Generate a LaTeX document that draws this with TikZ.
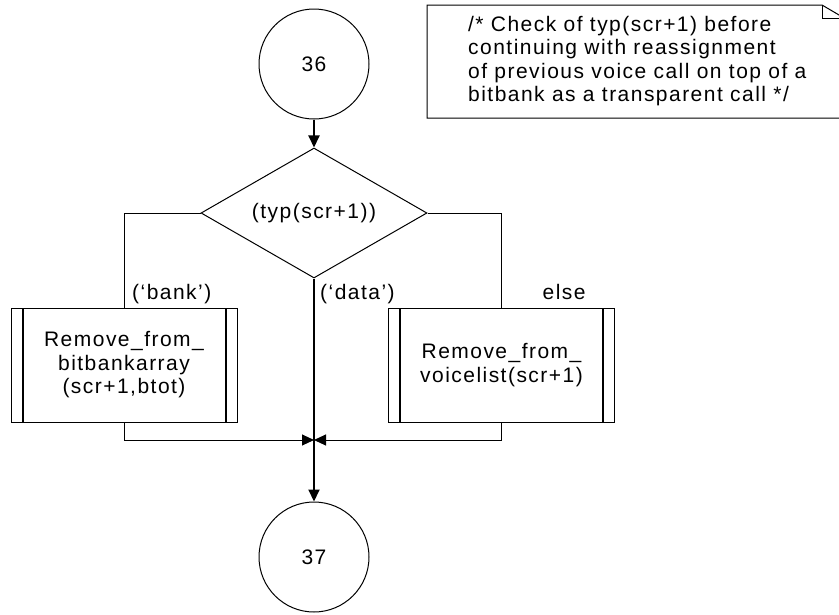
\documentclass[tikz,border=0pt]{standalone}
\usepackage{fontspec}
\setmainfont{Liberation Sans}[LetterSpace=7]
\usepackage{tikz}
\usetikzlibrary{arrows.meta, positioning, shapes.geometric}

\begin{document}
\begin{tikzpicture}[
  x=1pt, y=-1pt,
  every node/.style={font=\fontsize{21}{23.5}\selectfont, inner sep=0pt},
  flow/.style={line width=1pt},
  mainflow/.style={line width=2pt},
  arr/.style={-{Triangle[length=12pt,width=11pt]}},
  conn/.style={circle, draw, line width=1pt, minimum size=110pt},
  decision/.style={diamond, draw, line width=1pt, aspect=1.74,
    minimum width=226pt, minimum height=130pt},
  subproc/.style={rectangle, draw, line width=1pt, minimum width=226pt,
    minimum height=114pt, align=center,
    path picture={
      \draw[line width=2pt] ([xshift=11.5pt]path picture bounding box.north west)
        -- ([xshift=11.5pt]path picture bounding box.south west);
      \draw[line width=2pt] ([xshift=-11.5pt]path picture bounding box.north east)
        -- ([xshift=-11.5pt]path picture bounding box.south east);
    }}
]
  \useasboundingbox (0,0) rectangle (839,614);

  % Connectors and decision
  \node[conn]     (c36) at (314,64)  {36};
  \node[decision] (dec) at (314,213) {(typ(scr+1))};
  \node[conn]     (c37) at (314,557) {37};

  % Branch boxes
  \node[subproc] (lbox) at (124,365)   {Remove\_from\_\\bitbankarray\\(scr+1,btot)};
  \node[subproc] (rbox) at (501.5,365) {Remove\_from\_\\voicelist(scr+1)};
  \coordinate (join) at (314,440);

  \draw[mainflow, arr] (c36) -- (dec);
  \draw[flow] (dec.west) -| (lbox.north);
  \draw[flow] (dec.east) -| (rbox.north);
  \draw[mainflow, arr] (dec.south) -- (c37);
  \draw[flow, arr] (lbox.south) |- (join);
  \draw[flow, arr] (rbox.south) |- (join);

  % Branch labels
  \node[anchor=base west] (lbank) at ([xshift=8pt, yshift=8pt]lbox.north) {(‘bank’)};
  \node[anchor=base west] (ldata) at ([xshift=6pt, yshift=-21pt]dec.south) {(‘data’)};
  \node[anchor=base west] (lelse) at ([xshift=41pt, yshift=8pt]rbox.north) {else};

  % Comment note
  \draw[flow] (427,5) -- (822,5) -- (845,18.5) -- (845,118) -- (427,118) -- cycle;
  \draw[flow] (822,5) -- (822,18.5) -- (845,18.5);
  \node[anchor=north west, align=left] (note) at (468,16)
    {/* Check of typ(scr+1) before\\continuing with reassignment\\of previous voice call on top of a\\bitbank as a transparent call */};

\end{tikzpicture}
\end{document}
